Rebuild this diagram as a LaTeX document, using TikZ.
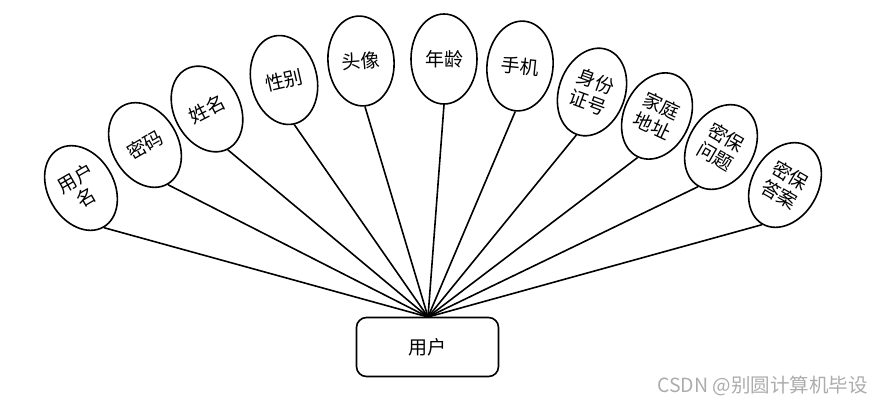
\documentclass[tikz,border=0pt]{standalone}
\usepackage{fontspec}
\setmainfont{Noto Sans CJK SC}
\usetikzlibrary{shapes.geometric}
\tikzset{
  attr/.style={draw, line width=1.6pt, ellipse, minimum width=66pt, minimum height=90pt, inner sep=0pt, align=center, font=\fontsize{19}{22}\selectfont},
  link/.style={line width=1.6pt},
  entity/.style={draw, line width=1.6pt, rounded corners=10pt, minimum width=142pt, minimum height=59pt, font=\fontsize{19}{22}\selectfont}
}
\begin{document}
\begin{tikzpicture}[x=1pt,y=-1pt]
\useasboundingbox (0,0) rectangle (884,405);
\node[entity] (user) at (427.5,347) {用户};
\coordinate (hub) at (428,317);
\node[attr, rotate=30] (a1) at (81,188) {用户\\名};
\node[attr, rotate=30] (a2) at (145,145) {密码};
\node[attr, rotate=27] (a3) at (207,109) {姓名};
\node[attr, rotate=13] (a4) at (284,80) {性别};
\node[attr, rotate=5] (a5) at (361,61) {头像};
\node[attr, rotate=0] (a6) at (444,59) {年龄};
\node[attr, rotate=-6] (a7) at (520,66) {手机};
\node[attr, rotate=-20] (a8) at (592,92) {身份\\证号};
\node[attr, rotate=-25] (a9) at (657,116) {家庭\\地址};
\node[attr, rotate=-30] (a10) at (721,147) {密保\\问题};
\node[attr, rotate=-30] (a11) at (785,185) {密保\\答案};
\foreach \i in {1,...,11} { \draw[link] (a\i.south) -- (hub); }
\node[text=gray!65, font=\fontsize{19.5}{22}\selectfont, anchor=east, inner sep=0pt] (wm) at (868,386) {CSDN @别圆计算机毕设};
\end{tikzpicture}
\end{document}
